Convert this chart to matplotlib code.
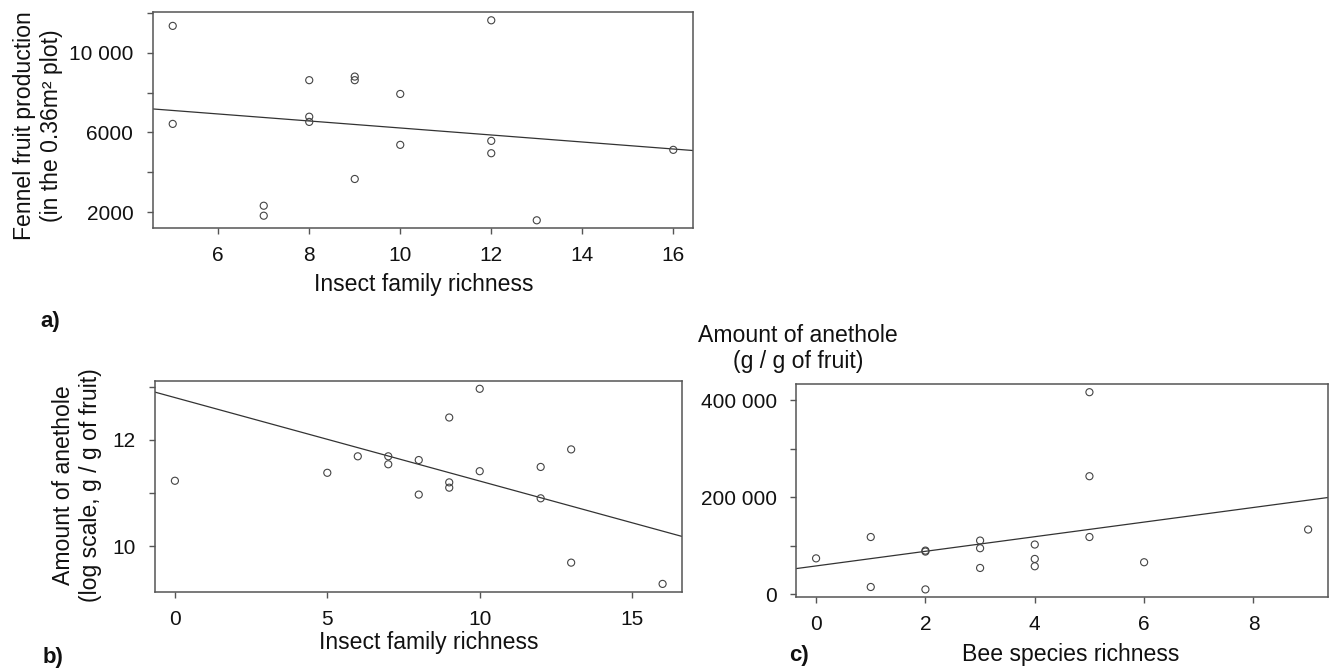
import matplotlib
matplotlib.use("Agg")
import matplotlib.pyplot as plt
import numpy as np

plt.rcParams['font.family'] = ['Liberation Sans', 'DejaVu Sans']

# ---- Panel a: fennel fruit production vs insect family richness
a_x = [5, 5, 7, 7, 8, 8, 8, 9, 9, 9, 10, 10, 12, 12, 12, 13, 16]
a_y = [11340, 6430, 2330, 1830, 8620, 6790, 6530, 8800, 8620, 3670,
       7930, 5380, 11620, 5580, 4960, 1600, 5130]
a_fit = [7980, -175.5]            # intercept, slope
a_xticks = [6, 8, 10, 12, 14, 16]
a_yticks = [2000, 4000, 6000, 8000, 10000, 12000]
a_yticklabels = ["2000", "", "6000", "", "10 000", ""]

# ---- Panel b: anethole (log) vs insect family richness
b_x = [0, 5, 6, 7, 7, 8, 8, 9, 9, 9, 10, 10, 12, 12, 13, 13, 16]
b_y = [11.23, 11.38, 11.69, 11.69, 11.54, 11.62, 10.97, 12.42, 11.20, 11.10,
       12.96, 11.41, 11.49, 10.90, 11.82, 9.69, 9.29]
b_fit = [12.795, -0.157]
b_xticks = [0, 5, 10, 15]
b_yticks = [10, 11, 12, 13]
b_yticklabels = ["10", "", "12", ""]

# ---- Panel c: anethole vs bee species richness
c_x = [0, 1, 1, 2, 2, 2, 3, 3, 3, 4, 4, 4, 5, 5, 5, 6, 9]
c_y = [74000, 118000, 15000, 90000, 88000, 10000, 110700, 94900, 54200,
       102500, 72800, 57700, 416500, 243300, 118000, 66000, 133400]
c_fit = [58400, 15060]
c_xticks = [0, 2, 4, 6, 8]
c_yticks = [0, 100000, 200000, 300000, 400000]
c_yticklabels = ["0", "", "200 000", "", "400 000"]

W, H = 1335, 668
fig = plt.figure(figsize=(W / 100, H / 100), dpi=100)

def px_axes(left, top, right, bottom):
    return fig.add_axes([left / W, 1 - bottom / H, (right - left) / W, (bottom - top) / H])

FRAME = "#555555"
TICK_FS = 15
LAB_FS = 16.6

def style(ax, x, y, fit, xticks, yticks, yticklabels):
    ax.scatter(x, y, s=26, facecolors="none", edgecolors="#444444", linewidths=0.8, zorder=3)
    xr = max(x) - min(x)
    yr = max(y) - min(y)
    ax.set_xlim(min(x) - 0.04 * xr, max(x) + 0.04 * xr)
    ax.set_ylim(min(y) - 0.04 * yr, max(y) + 0.04 * yr)
    ax.axline((0, fit[0]), slope=fit[1], color="#333333", lw=0.9, zorder=2)
    ax.set_xticks(xticks)
    ax.set_xticklabels([str(t) for t in xticks])
    ax.set_yticks(yticks)
    ax.set_yticklabels(yticklabels)
    for s in ax.spines.values():
        s.set_color(FRAME)
        s.set_linewidth(1.1)
    ax.tick_params(axis="both", direction="out", length=4, width=1.0, color=FRAME,
                   labelsize=TICK_FS, labelcolor="#111111")
    ax.tick_params(axis="x", pad=9)
    ax.tick_params(axis="y", pad=10)

ax_a = px_axes(152.7, 12.3, 693.3, 228.3)
style(ax_a, a_x, a_y, a_fit, a_xticks, a_yticks, a_yticklabels)

ax_b = px_axes(155.4, 381, 682.1, 591.7)
style(ax_b, b_x, b_y, b_fit, b_xticks, b_yticks, b_yticklabels)

ax_c = px_axes(796.4, 384.3, 1327.8, 597.3)
style(ax_c, c_x, c_y, c_fit, c_xticks, c_yticks, c_yticklabels)

def ftext(xpx, ypx, s, **kw):
    fig.text(xpx / W, 1 - ypx / H, s, **kw)

# axis labels
ftext(38, 126, "Fennel fruit production\n(in the 0.36m² plot)", rotation=90,
      ha="center", va="center", multialignment="center", fontsize=LAB_FS, color="#111111")
ftext(424, 285, "Insect family richness", ha="center", va="center", fontsize=LAB_FS, color="#111111")
ftext(77, 485, "Amount of anethole\n(log scale, g / g of fruit)", rotation=90,
      ha="center", va="center", multialignment="center", fontsize=LAB_FS, color="#111111")
ftext(428.6, 643, "Insect family richness", ha="center", va="center", fontsize=LAB_FS, color="#111111")
ftext(798, 348.5, "Amount of anethole\n(g / g of fruit)", ha="center", va="center",
      multialignment="center", fontsize=LAB_FS, color="#111111")
ftext(1071, 655, "Bee species richness", ha="center", va="center", fontsize=LAB_FS, color="#111111")

# panel letters
ftext(40, 321, "a)", ha="left", va="center", fontsize=16, fontweight="bold", color="#111111")
ftext(43, 657, "b)", ha="left", va="center", fontsize=16, fontweight="bold", color="#111111")
ftext(789, 655, "c)", ha="left", va="center", fontsize=16, fontweight="bold", color="#111111")

fig.savefig("out.png", dpi=100)
